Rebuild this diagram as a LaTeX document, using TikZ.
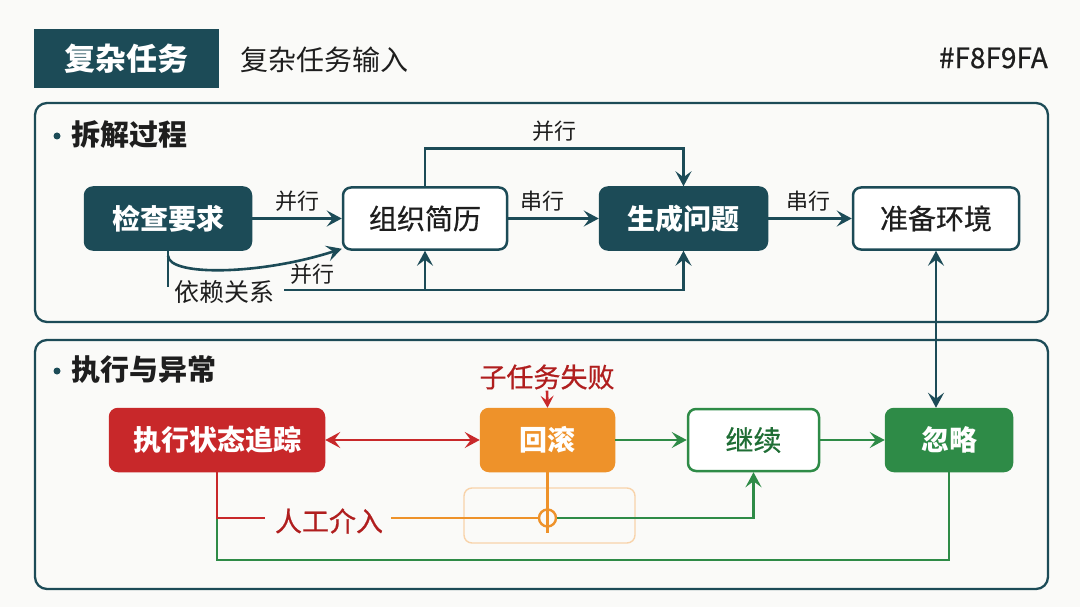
\documentclass[tikz,border=0pt]{standalone}
\usepackage{fontspec}
\setmainfont{Noto Sans CJK SC}
\newfontfamily\medf[FakeBold=0.6]{Noto Sans CJK SC}
\usetikzlibrary{arrows.meta,calc}
\definecolor{tealD}{HTML}{1C4B57}
\definecolor{bgc}{HTML}{FAFAF8}
\definecolor{redc}{HTML}{C8282A}
\definecolor{redt}{HTML}{B01E1E}
\definecolor{orc}{HTML}{EE922A}
\definecolor{grc}{HTML}{2E8B47}
\definecolor{grt}{HTML}{1F6E35}
\definecolor{txt}{HTML}{1E1E1E}
\begin{document}
\begin{tikzpicture}[x=1pt,y=-1pt,
  nodebox/.style={draw, line width=2.5pt, rounded corners=8pt, minimum height=62pt, inner sep=0pt, align=center, font=\fontsize{28}{32}\selectfont\medf},
  fbox/.style={nodebox, text=white, font=\fontsize{28}{32}\selectfont\bfseries},
  tbox/.style={fbox, draw=tealD, fill=tealD},
  wbox/.style={nodebox, draw=tealD, fill=white, text=txt},
  lab/.style={font=\fontsize{22}{26}\selectfont, text=txt, inner sep=1pt},
  tip/.style={-{Stealth[length=15pt,width=16pt,inset=6pt]}},
  tips/.style={{Stealth[length=15pt,width=16pt,inset=6pt]}-{Stealth[length=15pt,width=16pt,inset=6pt]}},
  tarr/.style={draw=tealD, line width=2.6pt, tip},
  tline/.style={draw=tealD, line width=2.6pt},
  frame/.style={draw=tealD, line width=2.3pt, rounded corners=12pt},
  sect/.style={anchor=west, font=\fontsize{29}{32}\selectfont\bfseries, text=txt, inner sep=0pt},
  dot/.style={circle, fill=tealD, inner sep=0pt, minimum size=7pt}
]
\fill[bgc] (0,0) rectangle (1080,607);
\useasboundingbox (0,0) rectangle (1080,607);

% header
\node[fill=tealD, draw=tealD, line width=1pt, minimum width=184pt, minimum height=58pt, inner sep=0pt, text=white, font=\fontsize{31}{34}\selectfont\bfseries] (hdr) at (126.5,59) {复杂任务};
\node[anchor=west, inner sep=0pt, text=txt, font=\fontsize{28}{32}\selectfont] (hdrsub) at (240,60) {复杂任务输入};
\node[anchor=east, inner sep=0pt, text=txt, font=\fontsize{28}{32}\selectfont\medf] (hex) at (1048,58) {\#F8F9FA};

% section frames
\draw[frame] (35,103) rectangle (1048,322);
\draw[frame] (35,340) rectangle (1048,589);

\node[dot] (b1) at (57,136) {};
\node[sect] (t1) at (71,135) {拆解过程};
\node[dot] (b2) at (57,371) {};
\node[sect] (t2) at (71,370) {执行与异常};

% row 1
\node[tbox, minimum width=166pt] (jc) at (168,218.5) {检查要求};
\node[wbox, minimum width=164pt] (zz) at (425,218.5) {组织简历};
\node[tbox, minimum width=167pt] (sc) at (683.5,218.5) {生成问题};
\node[wbox, minimum width=166pt] (zb) at (936,218.5) {准备环境};

\draw[tarr] (jc.east) -- node[lab, above=5pt] (l1) {并行} (zz.west);
\draw[tarr] (zz.east) -- node[lab, above=5pt, pos=0.38] (l2) {串行} (sc.west);
\draw[tarr] (sc.east) -- node[lab, above=5pt, pos=0.48] (l3) {串行} (zb.west);
\draw[tarr] (zz.north) -- ++(0,-38) -| node[lab, pos=0.25, above=5pt] (l4) {并行} (sc.north);

\node[inner sep=0pt, text=txt, font=\fontsize{25}{28}\selectfont] (dep) at (224,292) {依赖关系};
\draw[tline] (jc.south) -- ++(0,36);
\draw[tarr] ($(jc.south)+(0,5)$) .. controls ($(jc.south)+(1,26)$) and ($(zz.south west)+(-80,24)$) .. ($(zz.south west)+(0,-2)$);
\node[lab] (l5) at (312,274) {并行};
\draw[tarr] ($(dep.east)+(10,-2)$) -| (sc.south);
\draw[tarr] (zz.south |- 0,290) -- (zz.south);

% row 2
\draw[orc!40, line width=1.4pt, rounded corners=8pt] (464,488) rectangle (635,543);

\node[fbox, draw=redc, fill=redc, minimum width=214pt] (zx) at (217,440) {执行状态追踪};
\node[fbox, draw=orc, fill=orc, minimum width=133pt] (hg) at (547.5,440) {回滚};
\node[nodebox, draw=grc, fill=white, text=grt, minimum width=131pt] (jx) at (753.5,440) {继续};
\node[fbox, draw=grc, fill=grc, minimum width=126pt] (hl) at (949,440) {忽略};

\node[text=redt, inner sep=1pt, font=\fontsize{27}{30}\selectfont\medf] (sf) at (547,377) {子任务失败};
\draw[redc, line width=2.6pt, -{Stealth[length=12pt,width=13pt,inset=5pt]}] (sf.south) -- (hg.north);

\draw[redc, line width=2.6pt, tips] (zx.east) -- (hg.west);
\draw[grc, line width=2.6pt, tip] (hg.east) -- (jx.west);
\draw[grc, line width=2.6pt, tip] (jx.east) -- (hl.west);

\draw[tealD, line width=2.6pt, tips] (zb.south) -- (zb.south |- hl.north);

\node[text=redt, inner sep=0pt, font=\fontsize{27}{30}\selectfont\medf] (rg) at (329,521) {人工介入};
\node[circle, draw=orc, line width=2.4pt, minimum size=17pt, inner sep=0pt] (circ) at (547.5,518) {};

\draw[grc, line width=2.2pt] (zx.south |- 0,518) -- (zx.south |- 0,560) -| (hl.south);
\draw[redc, line width=2.6pt] (zx.south) |- ($(rg.west |- 0,518)+(-10,0)$);
\draw[orc, line width=2.6pt] ($(rg.east |- 0,518)+(8,0)$) -- (circ.west);
\draw[orc, line width=2.6pt] (hg.south) -- ($(circ.south)+(0,5)$);
\draw[grc, line width=2.6pt, tip] (circ.east) -| (jx.south);
\end{tikzpicture}
\end{document}
